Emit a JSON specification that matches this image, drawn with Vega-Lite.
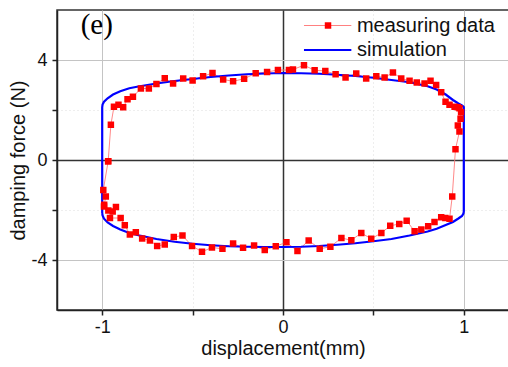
{
  "$schema": "https://vega.github.io/schema/vega-lite/v6.json",
  "width": 452,
  "height": 300,
  "autosize": {"type": "none"},
  "padding": {"left": 57, "top": 10, "right": 0, "bottom": 57},
  "background": "white",
  "config": {
    "font": "Liberation Sans",
    "view": {"stroke": "#333333", "strokeWidth": 1.5},
    "axis": {
      "labelFontSize": 18,
      "titleFontSize": 20,
      "titleFontWeight": "normal",
      "labelColor": "#111111",
      "titleColor": "#111111",
      "domainColor": "#222222",
      "domainWidth": 1.5,
      "tickColor": "#222222",
      "tickWidth": 1.5,
      "tickSize": 5
    }
  },
  "datasets": {
    "sim": [
      {"i": 0, "d": -1.0, "f": -2.12},
      {"i": 1, "d": -1.0, "f": 2.11},
      {"i": 2, "d": -0.998, "f": 2.22},
      {"i": 3, "d": -0.99, "f": 2.33},
      {"i": 4, "d": -0.97, "f": 2.47},
      {"i": 5, "d": -0.94, "f": 2.62},
      {"i": 6, "d": -0.9, "f": 2.75},
      {"i": 7, "d": -0.85, "f": 2.87},
      {"i": 8, "d": -0.8, "f": 2.94},
      {"i": 9, "d": -0.7, "f": 3.06},
      {"i": 10, "d": -0.6, "f": 3.16},
      {"i": 11, "d": -0.5, "f": 3.24},
      {"i": 12, "d": -0.4, "f": 3.32},
      {"i": 13, "d": -0.3, "f": 3.38},
      {"i": 14, "d": -0.2, "f": 3.43},
      {"i": 15, "d": -0.1, "f": 3.46},
      {"i": 16, "d": 0.0, "f": 3.48},
      {"i": 17, "d": 0.1, "f": 3.47},
      {"i": 18, "d": 0.2, "f": 3.45},
      {"i": 19, "d": 0.3, "f": 3.41},
      {"i": 20, "d": 0.4, "f": 3.36},
      {"i": 21, "d": 0.5, "f": 3.29},
      {"i": 22, "d": 0.6, "f": 3.2},
      {"i": 23, "d": 0.7, "f": 3.11},
      {"i": 24, "d": 0.8, "f": 2.95},
      {"i": 25, "d": 0.85, "f": 2.82},
      {"i": 26, "d": 0.9, "f": 2.62},
      {"i": 27, "d": 0.94, "f": 2.4},
      {"i": 28, "d": 0.97, "f": 2.26},
      {"i": 29, "d": 0.99, "f": 2.18},
      {"i": 30, "d": 0.998, "f": 2.14},
      {"i": 31, "d": 1.0, "f": 2.12},
      {"i": 32, "d": 1.0, "f": -2.06},
      {"i": 33, "d": 0.998, "f": -2.14},
      {"i": 34, "d": 0.99, "f": -2.24},
      {"i": 35, "d": 0.97, "f": -2.34},
      {"i": 36, "d": 0.94, "f": -2.48},
      {"i": 37, "d": 0.9, "f": -2.6},
      {"i": 38, "d": 0.85, "f": -2.75},
      {"i": 39, "d": 0.8, "f": -2.86},
      {"i": 40, "d": 0.7, "f": -3.02},
      {"i": 41, "d": 0.6, "f": -3.16},
      {"i": 42, "d": 0.5, "f": -3.25},
      {"i": 43, "d": 0.4, "f": -3.33},
      {"i": 44, "d": 0.3, "f": -3.39},
      {"i": 45, "d": 0.2, "f": -3.44},
      {"i": 46, "d": 0.1, "f": -3.47},
      {"i": 47, "d": 0.0, "f": -3.48},
      {"i": 48, "d": -0.1, "f": -3.48},
      {"i": 49, "d": -0.2, "f": -3.47},
      {"i": 50, "d": -0.3, "f": -3.45},
      {"i": 51, "d": -0.4, "f": -3.41},
      {"i": 52, "d": -0.5, "f": -3.35},
      {"i": 53, "d": -0.6, "f": -3.27},
      {"i": 54, "d": -0.7, "f": -3.16},
      {"i": 55, "d": -0.8, "f": -3.01},
      {"i": 56, "d": -0.85, "f": -2.92},
      {"i": 57, "d": -0.9, "f": -2.78},
      {"i": 58, "d": -0.94, "f": -2.64},
      {"i": 59, "d": -0.97, "f": -2.5},
      {"i": 60, "d": -0.99, "f": -2.35},
      {"i": 61, "d": -0.998, "f": -2.22},
      {"i": 62, "d": -1.0, "f": -2.12}
    ],
    "meas": [
      {"i": 0, "d": -0.967, "f": -0.05},
      {"i": 1, "d": -0.952, "f": 1.41},
      {"i": 2, "d": -0.935, "f": 2.13},
      {"i": 3, "d": -0.91, "f": 2.21},
      {"i": 4, "d": -0.884, "f": 2.11},
      {"i": 5, "d": -0.86, "f": 2.43},
      {"i": 6, "d": -0.83, "f": 2.53},
      {"i": 7, "d": -0.786, "f": 2.86},
      {"i": 8, "d": -0.742, "f": 2.86},
      {"i": 9, "d": -0.7, "f": 3.04},
      {"i": 10, "d": -0.654, "f": 3.27},
      {"i": 11, "d": -0.608, "f": 3.06},
      {"i": 12, "d": -0.552, "f": 3.26},
      {"i": 13, "d": -0.5, "f": 3.18},
      {"i": 14, "d": -0.442, "f": 3.35},
      {"i": 15, "d": -0.39, "f": 3.48},
      {"i": 16, "d": -0.331, "f": 3.22},
      {"i": 17, "d": -0.276, "f": 3.15},
      {"i": 18, "d": -0.215, "f": 3.25},
      {"i": 19, "d": -0.151, "f": 3.47},
      {"i": 20, "d": -0.088, "f": 3.52},
      {"i": 21, "d": -0.028, "f": 3.6},
      {"i": 22, "d": 0.033, "f": 3.6},
      {"i": 23, "d": 0.055, "f": 3.62},
      {"i": 24, "d": 0.116, "f": 3.79},
      {"i": 25, "d": 0.175, "f": 3.59},
      {"i": 26, "d": 0.234, "f": 3.56},
      {"i": 27, "d": 0.291, "f": 3.43},
      {"i": 28, "d": 0.346, "f": 3.3},
      {"i": 29, "d": 0.405, "f": 3.46},
      {"i": 30, "d": 0.46, "f": 3.26},
      {"i": 31, "d": 0.516, "f": 3.35},
      {"i": 32, "d": 0.562, "f": 3.3},
      {"i": 33, "d": 0.608, "f": 3.5},
      {"i": 34, "d": 0.654, "f": 3.26},
      {"i": 35, "d": 0.7, "f": 3.17},
      {"i": 36, "d": 0.74, "f": 3.1},
      {"i": 37, "d": 0.783, "f": 3.06},
      {"i": 38, "d": 0.816, "f": 3.17},
      {"i": 39, "d": 0.847, "f": 3.0},
      {"i": 40, "d": 0.875, "f": 2.71},
      {"i": 41, "d": 0.899, "f": 2.33},
      {"i": 42, "d": 0.921, "f": 2.21},
      {"i": 43, "d": 0.949, "f": 2.13},
      {"i": 44, "d": 0.967, "f": 2.11},
      {"i": 45, "d": 0.976, "f": 2.07},
      {"i": 46, "d": 0.985, "f": 1.91},
      {"i": 47, "d": 0.982, "f": 1.65},
      {"i": 48, "d": 0.967, "f": 1.38},
      {"i": 49, "d": 0.976, "f": 1.14},
      {"i": 50, "d": 0.954, "f": 0.43},
      {"i": 51, "d": 0.936, "f": -1.46},
      {"i": 52, "d": 0.921, "f": -2.35},
      {"i": 53, "d": 0.898, "f": -2.32},
      {"i": 54, "d": 0.875, "f": -2.29},
      {"i": 55, "d": 0.838, "f": -2.48},
      {"i": 56, "d": 0.803, "f": -2.65},
      {"i": 57, "d": 0.765, "f": -2.78},
      {"i": 58, "d": 0.728, "f": -2.85},
      {"i": 59, "d": 0.684, "f": -2.43},
      {"i": 60, "d": 0.643, "f": -2.56},
      {"i": 61, "d": 0.593, "f": -2.63},
      {"i": 62, "d": 0.544, "f": -2.92},
      {"i": 63, "d": 0.488, "f": -3.15},
      {"i": 64, "d": 0.433, "f": -2.92},
      {"i": 65, "d": 0.378, "f": -3.21},
      {"i": 66, "d": 0.323, "f": -3.12},
      {"i": 67, "d": 0.262, "f": -3.47},
      {"i": 68, "d": 0.203, "f": -3.55},
      {"i": 69, "d": 0.142, "f": -3.22},
      {"i": 70, "d": 0.08, "f": -3.64},
      {"i": 71, "d": 0.019, "f": -3.29},
      {"i": 72, "d": -0.04, "f": -3.45},
      {"i": 73, "d": -0.101, "f": -3.6},
      {"i": 74, "d": -0.16, "f": -3.42},
      {"i": 75, "d": -0.221, "f": -3.51},
      {"i": 76, "d": -0.276, "f": -3.34},
      {"i": 77, "d": -0.335, "f": -3.55},
      {"i": 78, "d": -0.393, "f": -3.5},
      {"i": 79, "d": -0.448, "f": -3.67},
      {"i": 80, "d": -0.503, "f": -3.44},
      {"i": 81, "d": -0.556, "f": -3.02},
      {"i": 82, "d": -0.604, "f": -3.08},
      {"i": 83, "d": -0.654, "f": -3.38},
      {"i": 84, "d": -0.696, "f": -3.44},
      {"i": 85, "d": -0.736, "f": -3.22},
      {"i": 86, "d": -0.779, "f": -3.14},
      {"i": 87, "d": -0.814, "f": -2.89},
      {"i": 88, "d": -0.847, "f": -2.98},
      {"i": 89, "d": -0.875, "f": -2.61},
      {"i": 90, "d": -0.898, "f": -2.32},
      {"i": 91, "d": -0.957, "f": -2.32},
      {"i": 92, "d": -0.924, "f": -1.88},
      {"i": 93, "d": -0.942, "f": -2.06},
      {"i": 94, "d": -0.966, "f": -2.02},
      {"i": 95, "d": -0.99, "f": -1.86},
      {"i": 96, "d": -0.989, "f": -1.79},
      {"i": 97, "d": -0.98, "f": -1.46},
      {"i": 98, "d": -0.994, "f": -1.2},
      {"i": 99, "d": -0.967, "f": -0.05}
    ],
    "legend": [
      {"series": "measuring data", "d1": 0.116, "d2": 0.378, "dm": 0.249, "dt": 0.409, "f": 5.38, "c": "#ff8080", "w": 1},
      {"series": "simulation", "d1": 0.116, "d2": 0.378, "dm": null, "dt": 0.409, "f": 4.4, "c": "#0000ff", "w": 2.2}
    ],
    "note": [{"label": "(e)", "d": -1.03, "f": 5.42}]
  },
  "layer": [
    {
      "data": {"name": "meas"},
      "mark": {"type": "line", "color": "#ff7a7a", "strokeWidth": 0.9},
      "encoding": {
        "x": {
          "field": "d", "type": "quantitative",
          "scale": {"domain": [-1.25, 1.25], "nice": false, "zero": false},
          "axis": {
            "title": "displacement(mm)",
            "values": [-1, -0.5, 0, 0.5, 1],
            "labelExpr": "datum.value % 1 == 0 ? '' + datum.value : ''",
            "labelPadding": 3,
            "titlePadding": 2,
            "grid": true,
            "gridColor": {"condition": {"test": "datum.value == 0", "value": "#333333"}, "value": "#c4c4c4"},
            "gridWidth": {"condition": {"test": "datum.value == 0", "value": 1.5}, "value": 1},
            "gridOpacity": {"condition": {"test": "abs(datum.value) == 0.5", "value": 0.6}, "value": 1},
            "gridDash": {"condition": {"test": "abs(datum.value) == 0.5", "value": [1, 3]}, "value": []}
          }
        },
        "y": {
          "field": "f", "type": "quantitative",
          "scale": {"domain": [-6, 6], "nice": false, "zero": false},
          "axis": {
            "title": "damping force (N)",
            "values": [-4, -2, 0, 2, 4],
            "labelExpr": "datum.value % 4 == 0 ? '' + datum.value : ''",
            "labelPadding": 5,
            "titlePadding": 2,
            "grid": true,
            "gridColor": {"condition": {"test": "datum.value == 0", "value": "#333333"}, "value": "#c4c4c4"},
            "gridWidth": {"condition": {"test": "datum.value == 0", "value": 1.5}, "value": 1},
            "gridOpacity": {"condition": {"test": "abs(datum.value) == 2", "value": 0.6}, "value": 1},
            "gridDash": {"condition": {"test": "abs(datum.value) == 2", "value": [1, 3]}, "value": []}
          }
        },
        "order": {"field": "i", "type": "quantitative"}
      }
    },
    {
      "data": {"name": "sim"},
      "mark": {"type": "line", "color": "#0000ff", "strokeWidth": 2.2},
      "encoding": {
        "x": {"field": "d", "type": "quantitative"},
        "y": {"field": "f", "type": "quantitative"},
        "order": {"field": "i", "type": "quantitative"}
      }
    },
    {
      "data": {"name": "meas"},
      "mark": {"type": "square", "color": "#ff0000", "filled": true, "opacity": 1, "size": 42},
      "encoding": {
        "x": {"field": "d", "type": "quantitative"},
        "y": {"field": "f", "type": "quantitative"}
      }
    },
    {
      "data": {"name": "legend"},
      "mark": {"type": "rule"},
      "encoding": {
        "x": {"field": "d1", "type": "quantitative"},
        "x2": {"field": "d2"},
        "y": {"field": "f", "type": "quantitative"},
        "color": {"field": "c", "type": "nominal", "scale": null},
        "strokeWidth": {"field": "w", "type": "quantitative", "scale": null}
      }
    },
    {
      "data": {"name": "legend"},
      "transform": [{"filter": "datum.dm != null"}],
      "mark": {"type": "square", "color": "#ff0000", "filled": true, "opacity": 1, "size": 42},
      "encoding": {
        "x": {"field": "dm", "type": "quantitative"},
        "y": {"field": "f", "type": "quantitative"}
      }
    },
    {
      "data": {"name": "legend"},
      "mark": {"type": "text", "align": "left", "baseline": "middle", "fontSize": 20, "color": "#111111"},
      "encoding": {
        "x": {"field": "dt", "type": "quantitative"},
        "y": {"field": "f", "type": "quantitative"},
        "text": {"field": "series"}
      }
    },
    {
      "data": {"name": "note"},
      "mark": {"type": "text", "align": "center", "baseline": "middle", "font": "Liberation Serif", "fontSize": 29, "color": "#000000"},
      "encoding": {
        "x": {"field": "d", "type": "quantitative"},
        "y": {"field": "f", "type": "quantitative"},
        "text": {"field": "label"}
      }
    }
  ]
}
